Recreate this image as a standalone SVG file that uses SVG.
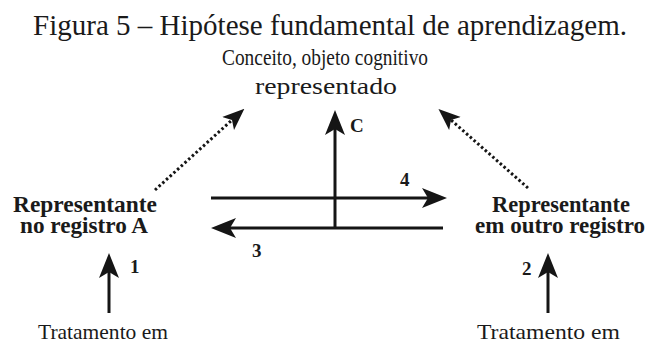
<svg xmlns="http://www.w3.org/2000/svg" width="650" height="343" viewBox="0 0 650 343">
<style>
text{font-family:"Liberation Serif","Times New Roman",serif;fill:#1a1a1a}
.title{font-size:29px}
.plain{font-size:23px}
.bot{font-size:22px}
.bold{font-size:24px;font-weight:bold}
.num{font-size:19px;font-weight:bold}
.solid{stroke:#151515;stroke-width:3;fill:none}
.dot{stroke:#151515;stroke-width:3;fill:none;stroke-dasharray:2.5 2.5}
</style>
<defs>
<marker id="ah" viewBox="0 0 25 20" refX="6" refY="10" markerWidth="25" markerHeight="20" markerUnits="userSpaceOnUse" orient="auto">
<path d="M0,0 L25,10 L0,20 L6,10 Z" fill="#151515"/>
</marker>
<marker id="ahs" viewBox="0 0 25 20" refX="6" refY="10" markerWidth="22" markerHeight="18" markerUnits="userSpaceOnUse" orient="auto">
<path d="M0,0 L25,10 L0,20 L6,10 Z" fill="#151515"/>
</marker>
</defs>
<text class="title" x="33" y="35" textLength="594" lengthAdjust="spacingAndGlyphs">Figura 5 – Hipótese fundamental de aprendizagem.</text>
<g id="conceito">
<text class="plain" x="222" y="65" textLength="206" lengthAdjust="spacingAndGlyphs">Conceito, objeto cognitivo</text>
<text class="plain" x="255" y="94" textLength="142" lengthAdjust="spacingAndGlyphs">representado</text>
</g>
<g id="registroA">
<text class="bold" x="13" y="212" textLength="144" lengthAdjust="spacingAndGlyphs">Representante</text>
<text class="bold" x="20" y="233" textLength="128" lengthAdjust="spacingAndGlyphs">no registro A</text>
</g>
<g id="outroRegistro">
<text class="bold" x="492" y="212" textLength="138" lengthAdjust="spacingAndGlyphs">Representante</text>
<text class="bold" x="475" y="233" textLength="170" lengthAdjust="spacingAndGlyphs">em outro registro</text>
</g>
<g id="tratamentoA">
<text class="bot" x="38" y="339" textLength="130" lengthAdjust="spacingAndGlyphs">Tratamento em</text>
</g>
<g id="tratamentoB">
<text class="bot" x="477" y="339" textLength="143" lengthAdjust="spacingAndGlyphs">Tratamento em</text>
</g>
<g id="connectors">
<line class="solid" x1="335" y1="228" x2="335" y2="129" marker-end="url(#ah)"/>
<line class="solid" x1="211" y1="198" x2="428" y2="198" marker-end="url(#ah)"/>
<line class="solid" x1="443" y1="228" x2="230" y2="228" marker-end="url(#ah)"/>
<line class="solid" x1="109" y1="313" x2="109" y2="272" marker-end="url(#ah)"/>
<line class="solid" x1="548" y1="313" x2="548" y2="272" marker-end="url(#ah)"/>
<line class="dot" x1="155" y1="190" x2="232" y2="120" marker-end="url(#ahs)"/>
<line class="dot" x1="528" y1="188" x2="451" y2="120" marker-end="url(#ahs)"/>
<text class="num" x="350" y="132" font-size="20">C</text>
<text class="num" x="400" y="186">4</text>
<text class="num" x="252" y="257">3</text>
<text class="num" x="130" y="273">1</text>
<text class="num" x="522" y="275">2</text>
</g>
</svg>
